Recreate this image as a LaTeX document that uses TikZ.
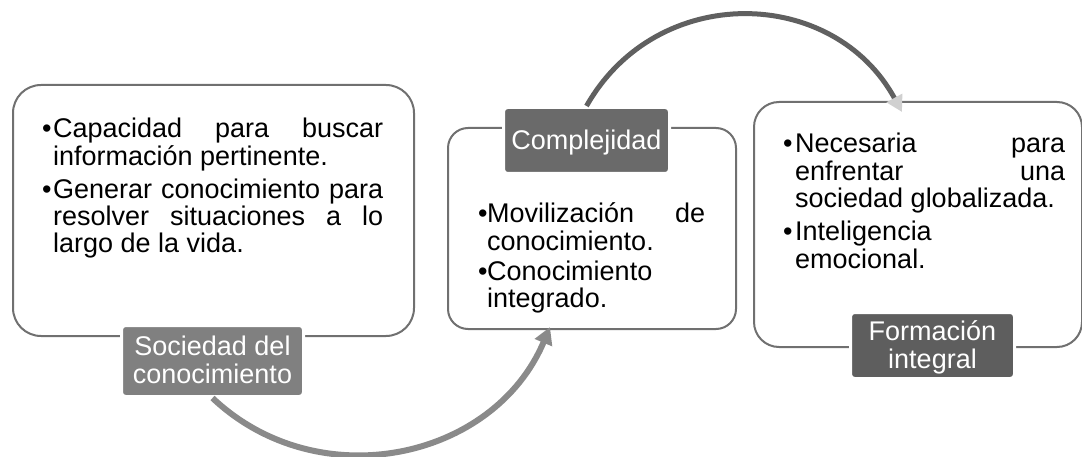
\documentclass[tikz,border=0pt]{standalone}
\usepackage{fontspec}
\setmainfont{Liberation Sans}
\usetikzlibrary{arrows.meta}
\definecolor{boxline}{HTML}{707070}
\definecolor{labA}{HTML}{808080}
\definecolor{labB}{HTML}{6A6A6A}
\definecolor{labC}{HTML}{5E5E5E}
\definecolor{arrA}{HTML}{8A8A8A}
\definecolor{arrB}{HTML}{606060}
\definecolor{tipB}{HTML}{D0D0D0}
\newcommand\myind[1]{\hbox to #1{\hss}}
\newcommand\mybul[1]{\hbox to #1{•\hss}}
\begin{document}
\begin{tikzpicture}[x=1pt,y=1pt,
  panel/.style={draw=boxline, line width=2pt, fill=white, anchor=north west, inner sep=0pt},
  tag/.style={draw=white, line width=3pt, rounded corners=4pt, inner sep=0pt},
  tagtext/.style={text=white, font=\fontsize{27}{28}\selectfont, anchor=base, inner sep=0pt},
  body/.style={anchor=base west, inner sep=0pt, font=\fontsize{27}{27.3}\selectfont, text=black},
  connA/.style={draw=arrA, line width=6pt, -{Triangle[length=17pt,width=18pt]}},
  connB/.style={draw=arrB, line width=5pt, -{Triangle[length=16pt,width=17pt,color=tipB]}}]
\useasboundingbox (0,0) rectangle (1082,-457);
% panels
\node[panel, rounded corners=28pt, minimum width=401pt, minimum height=251pt] (box1) at (12,-84) {};
\node[panel, rounded corners=20pt, minimum width=288pt, minimum height=201pt] (box2) at (447,-127) {};
\node[panel, rounded corners=25pt, minimum width=328pt, minimum height=245pt] (box3) at (753,-101) {};
% label shapes
\node[tag, fill=labA, minimum width=182pt, minimum height=71pt] (lab1) at (212.5,-361) {};
\node[tag, fill=labB, minimum width=166pt, minimum height=66pt] (lab2) at (586.5,-140.5) {};
\node[tag, fill=labC, minimum width=164pt, minimum height=66pt] (lab3) at (932.5,-345.5) {};
% connectors
\coordinate (e1) at (550,-327);
\coordinate (e2) at (902,-112);
\draw[connA] (lab1.south) .. controls +(-43.4:145) and +(247.1:145) .. (e1);
\draw[connB] (lab2.north) .. controls +(60.4:143) and +(118.5:143) .. (e2);
% label texts
\node[tagtext] (l1a) at (212.5,-355) {Sociedad del};
\node[tagtext] (l1b) at (212.5,-383) {conocimiento};
\node[tagtext] (l2a) at (586.5,-150) {Complejidad};
\node[tagtext] (l3a) at (932.5,-340) {Formación};
\node[tagtext] (l3b) at (932.5,-368) {integral};
% body texts
\node[body] (t1) at (42,-138) {\vtop{%
  \hbox{\mybul{11pt}\makebox[330pt][s]{Capacidad para buscar}}%
  \hbox{\myind{11pt}información pertinente.}%
  \vskip5.5pt
  \hbox{\mybul{11pt}\makebox[330pt][s]{Generar conocimiento para}}%
  \hbox{\myind{11pt}\makebox[330pt][s]{resolver situaciones a lo}}%
  \hbox{\myind{11pt}largo de la vida.}}};
\node[body] (t2) at (478,-223) {\vtop{%
  \hbox{\mybul{9pt}\makebox[218pt][s]{Movilización de}}%
  \hbox{\myind{9pt}conocimiento.}%
  \vskip3pt
  \hbox{\mybul{9pt}Conocimiento}%
  \hbox{\myind{9pt}integrado.}}};
\node[body] (t3) at (783,-153) {\vtop{%
  \hbox{\mybul{12pt}\makebox[270pt][s]{Necesaria para}}%
  \hbox{\myind{12pt}\makebox[270pt][s]{enfrentar una}}%
  \hbox{\myind{12pt}sociedad globalizada.}%
  \vskip6pt
  \hbox{\mybul{12pt}Inteligencia}%
  \hbox{\myind{12pt}emocional.}}};
\end{tikzpicture}
\end{document}
